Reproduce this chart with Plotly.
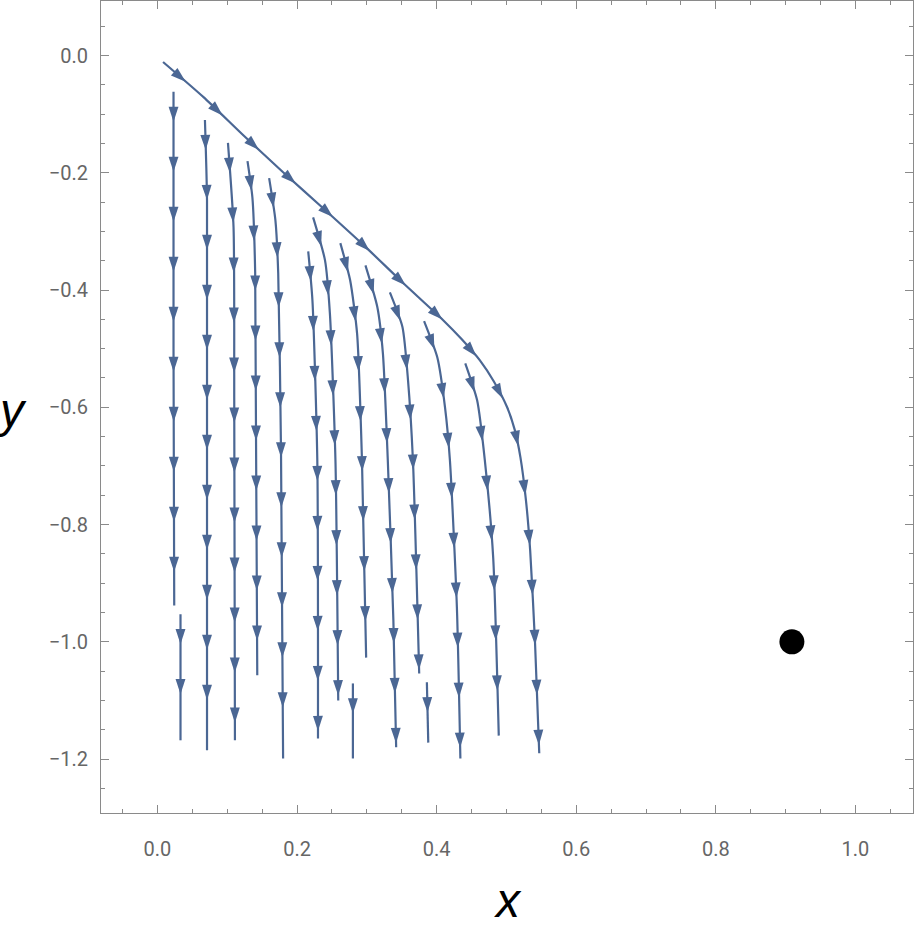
import numpy as np
import plotly.graph_objects as go

# ---- data (x, y pairs along each streamline) ----
main_x = [0.008, 0.066, 0.123, 0.180, 0.237, 0.295, 0.352, 0.409, 0.436, 0.462, 0.482, 0.501, 0.512, 0.520, 0.528, 0.534, 0.541, 0.547]
main_y = [-0.011, -0.071, -0.136, -0.199, -0.260, -0.323, -0.388, -0.451, -0.484, -0.520, -0.556, -0.600, -0.639, -0.685, -0.759, -0.844, -1.003, -1.190]

s1_x = [0.023, 0.023, 0.024]
s1_y = [-0.062, -0.500, -0.938]
s1b_x = [0.033, 0.033]
s1b_y = [-0.953, -1.168]
s2_x = [0.068, 0.071, 0.071]
s2_y = [-0.110, -0.247, -1.185]
s3_x = [0.101, 0.109, 0.110, 0.111]
s3_y = [-0.149, -0.293, -0.588, -1.168]
s4_x = [0.129, 0.136, 0.140, 0.143]
s4_y = [-0.180, -0.242, -0.371, -1.057]
s5_x = [0.160, 0.169, 0.173, 0.177, 0.180]
s5_y = [-0.209, -0.281, -0.371, -0.673, -1.199]
s6_x = [0.216, 0.222, 0.229, 0.230]
s6_y = [-0.334, -0.417, -0.690, -1.165]
s7_x = [0.223, 0.240, 0.247, 0.255, 0.259]
s7_y = [-0.276, -0.349, -0.439, -0.690, -1.100]
s7b_x = [0.280, 0.280]
s7b_y = [-1.071, -1.199]
s8_x = [0.262, 0.276, 0.286, 0.293, 0.299]
s8_y = [-0.320, -0.383, -0.474, -0.690, -1.027]
s9_x = [0.298, 0.315, 0.323, 0.330, 0.338, 0.342]
s9_y = [-0.358, -0.429, -0.508, -0.690, -0.963, -1.180]
s10_x = [0.333, 0.351, 0.359, 0.366, 0.375]
s10_y = [-0.404, -0.463, -0.554, -0.690, -1.054]
s10b_x = [0.386, 0.388]
s10b_y = [-1.069, -1.172]
s11_x = [0.382, 0.401, 0.412, 0.419, 0.429, 0.434]
s11_y = [-0.453, -0.515, -0.600, -0.690, -0.941, -1.199]
s12_x = [0.441, 0.458, 0.469, 0.481, 0.489]
s12_y = [-0.525, -0.588, -0.690, -0.856, -1.160]

point_x = [0.909]
point_y = [-1.0]

x_ticks = [0.0, 0.2, 0.4, 0.6, 0.8, 1.0]
y_ticks = [0.0, -0.2, -0.4, -0.6, -0.8, -1.0, -1.2]

streams = [
    (main_x, main_y), (s1_x, s1_y), (s1b_x, s1b_y), (s2_x, s2_y), (s3_x, s3_y),
    (s4_x, s4_y), (s5_x, s5_y), (s6_x, s6_y), (s7_x, s7_y), (s7b_x, s7b_y),
    (s8_x, s8_y), (s9_x, s9_y), (s10_x, s10_y), (s10b_x, s10b_y),
    (s11_x, s11_y), (s12_x, s12_y),
]

# ---- layout constants ----
W, H = 917, 929
MARGIN = dict(l=101, r=4, t=1, b=116)
X_RANGE = [-0.0809, 1.0825]
Y_RANGE = [-1.292, 0.093]
STREAM_COLOR = "#4b6794"
AXIS_COLOR = "#8a8a8a"
LABEL_COLOR = "#666666"

plot_w = W - MARGIN["l"] - MARGIN["r"]
plot_h = H - MARGIN["t"] - MARGIN["b"]
sx = plot_w / (X_RANGE[1] - X_RANGE[0])
sy = plot_h / (Y_RANGE[1] - Y_RANGE[0])


def arrow_positions(xs, ys, spacing=50.0, offset=30.0):
    px = np.asarray(xs) * sx
    py = -np.asarray(ys) * sy
    seg = np.hypot(np.diff(px), np.diff(py))
    cum = np.concatenate([[0], np.cumsum(seg)])
    total = cum[-1]
    ax, ay, ang = [], [], []
    s = offset
    while s <= total - 2:
        i = min(np.searchsorted(cum, s, side="right") - 1, len(seg) - 1)
        t = (s - cum[i]) / seg[i] if seg[i] > 0 else 0
        X = px[i] + t * (px[i + 1] - px[i])
        Y = py[i] + t * (py[i + 1] - py[i])
        dx = px[i + 1] - px[i]
        dy = py[i + 1] - py[i]
        ax.append(X / sx)
        ay.append(-Y / sy)
        ang.append(np.degrees(np.arctan2(dx, -dy)))
        s += spacing
    return ax, ay, ang


fig = go.Figure()
for xs, ys in streams:
    fig.add_trace(go.Scatter(
        x=xs, y=ys, mode="lines",
        line=dict(color=STREAM_COLOR, width=2.2, shape="spline", smoothing=0.6),
        hoverinfo="skip", showlegend=False,
    ))
    ax, ay, ang = arrow_positions(xs, ys)
    fig.add_trace(go.Scatter(
        x=ax, y=ay, mode="markers",
        marker=dict(symbol="arrow", size=16, angle=ang, color=STREAM_COLOR,
                    line=dict(width=0)),
        hoverinfo="skip", showlegend=False,
    ))

fig.add_trace(go.Scatter(
    x=point_x, y=point_y, mode="markers",
    marker=dict(size=25, color="black"),
    hoverinfo="skip", showlegend=False,
))

axis_common = dict(
    showgrid=False, zeroline=False, automargin=False,
    showline=True, linecolor=AXIS_COLOR, linewidth=1, mirror="ticks",
    ticks="inside", ticklen=8, tickwidth=1, tickcolor=AXIS_COLOR,
    tickformat=".1f",
    tickfont=dict(family="Roboto, Arial, sans-serif", size=20, color=LABEL_COLOR),
    minor=dict(dtick=0.05, ticks="inside", ticklen=4, tickwidth=1,
               tickcolor=AXIS_COLOR, showgrid=False),
)

fig.update_xaxes(range=X_RANGE, tickvals=x_ticks, ticklabelstandoff=18, **axis_common)
fig.update_yaxes(range=Y_RANGE, tickvals=y_ticks, ticklabelstandoff=8, **axis_common)

fig.update_layout(
    width=W, height=H, margin=MARGIN,
    plot_bgcolor="white", paper_bgcolor="white",
    annotations=[
        dict(text="<i>x</i>", xref="paper", yref="paper",
             x=(508 - MARGIN["l"]) / plot_w, y=-(900 - (MARGIN["t"] + plot_h)) / plot_h,
             xanchor="center", yanchor="middle", showarrow=False,
             font=dict(family="Liberation Sans, Arial", size=48, color="black")),
        dict(text="<i>y</i>", xref="paper", yref="paper",
             x=(12 - MARGIN["l"]) / plot_w, y=(MARGIN["t"] + plot_h - 410) / plot_h,
             xanchor="center", yanchor="middle", showarrow=False,
             font=dict(family="Liberation Sans, Arial", size=48, color="black")),
    ],
)

fig.write_html(
    "out.html",
    config={"displayModeBar": False},
    post_script="document.body.style.margin='0';document.body.style.overflow='hidden';",
)
